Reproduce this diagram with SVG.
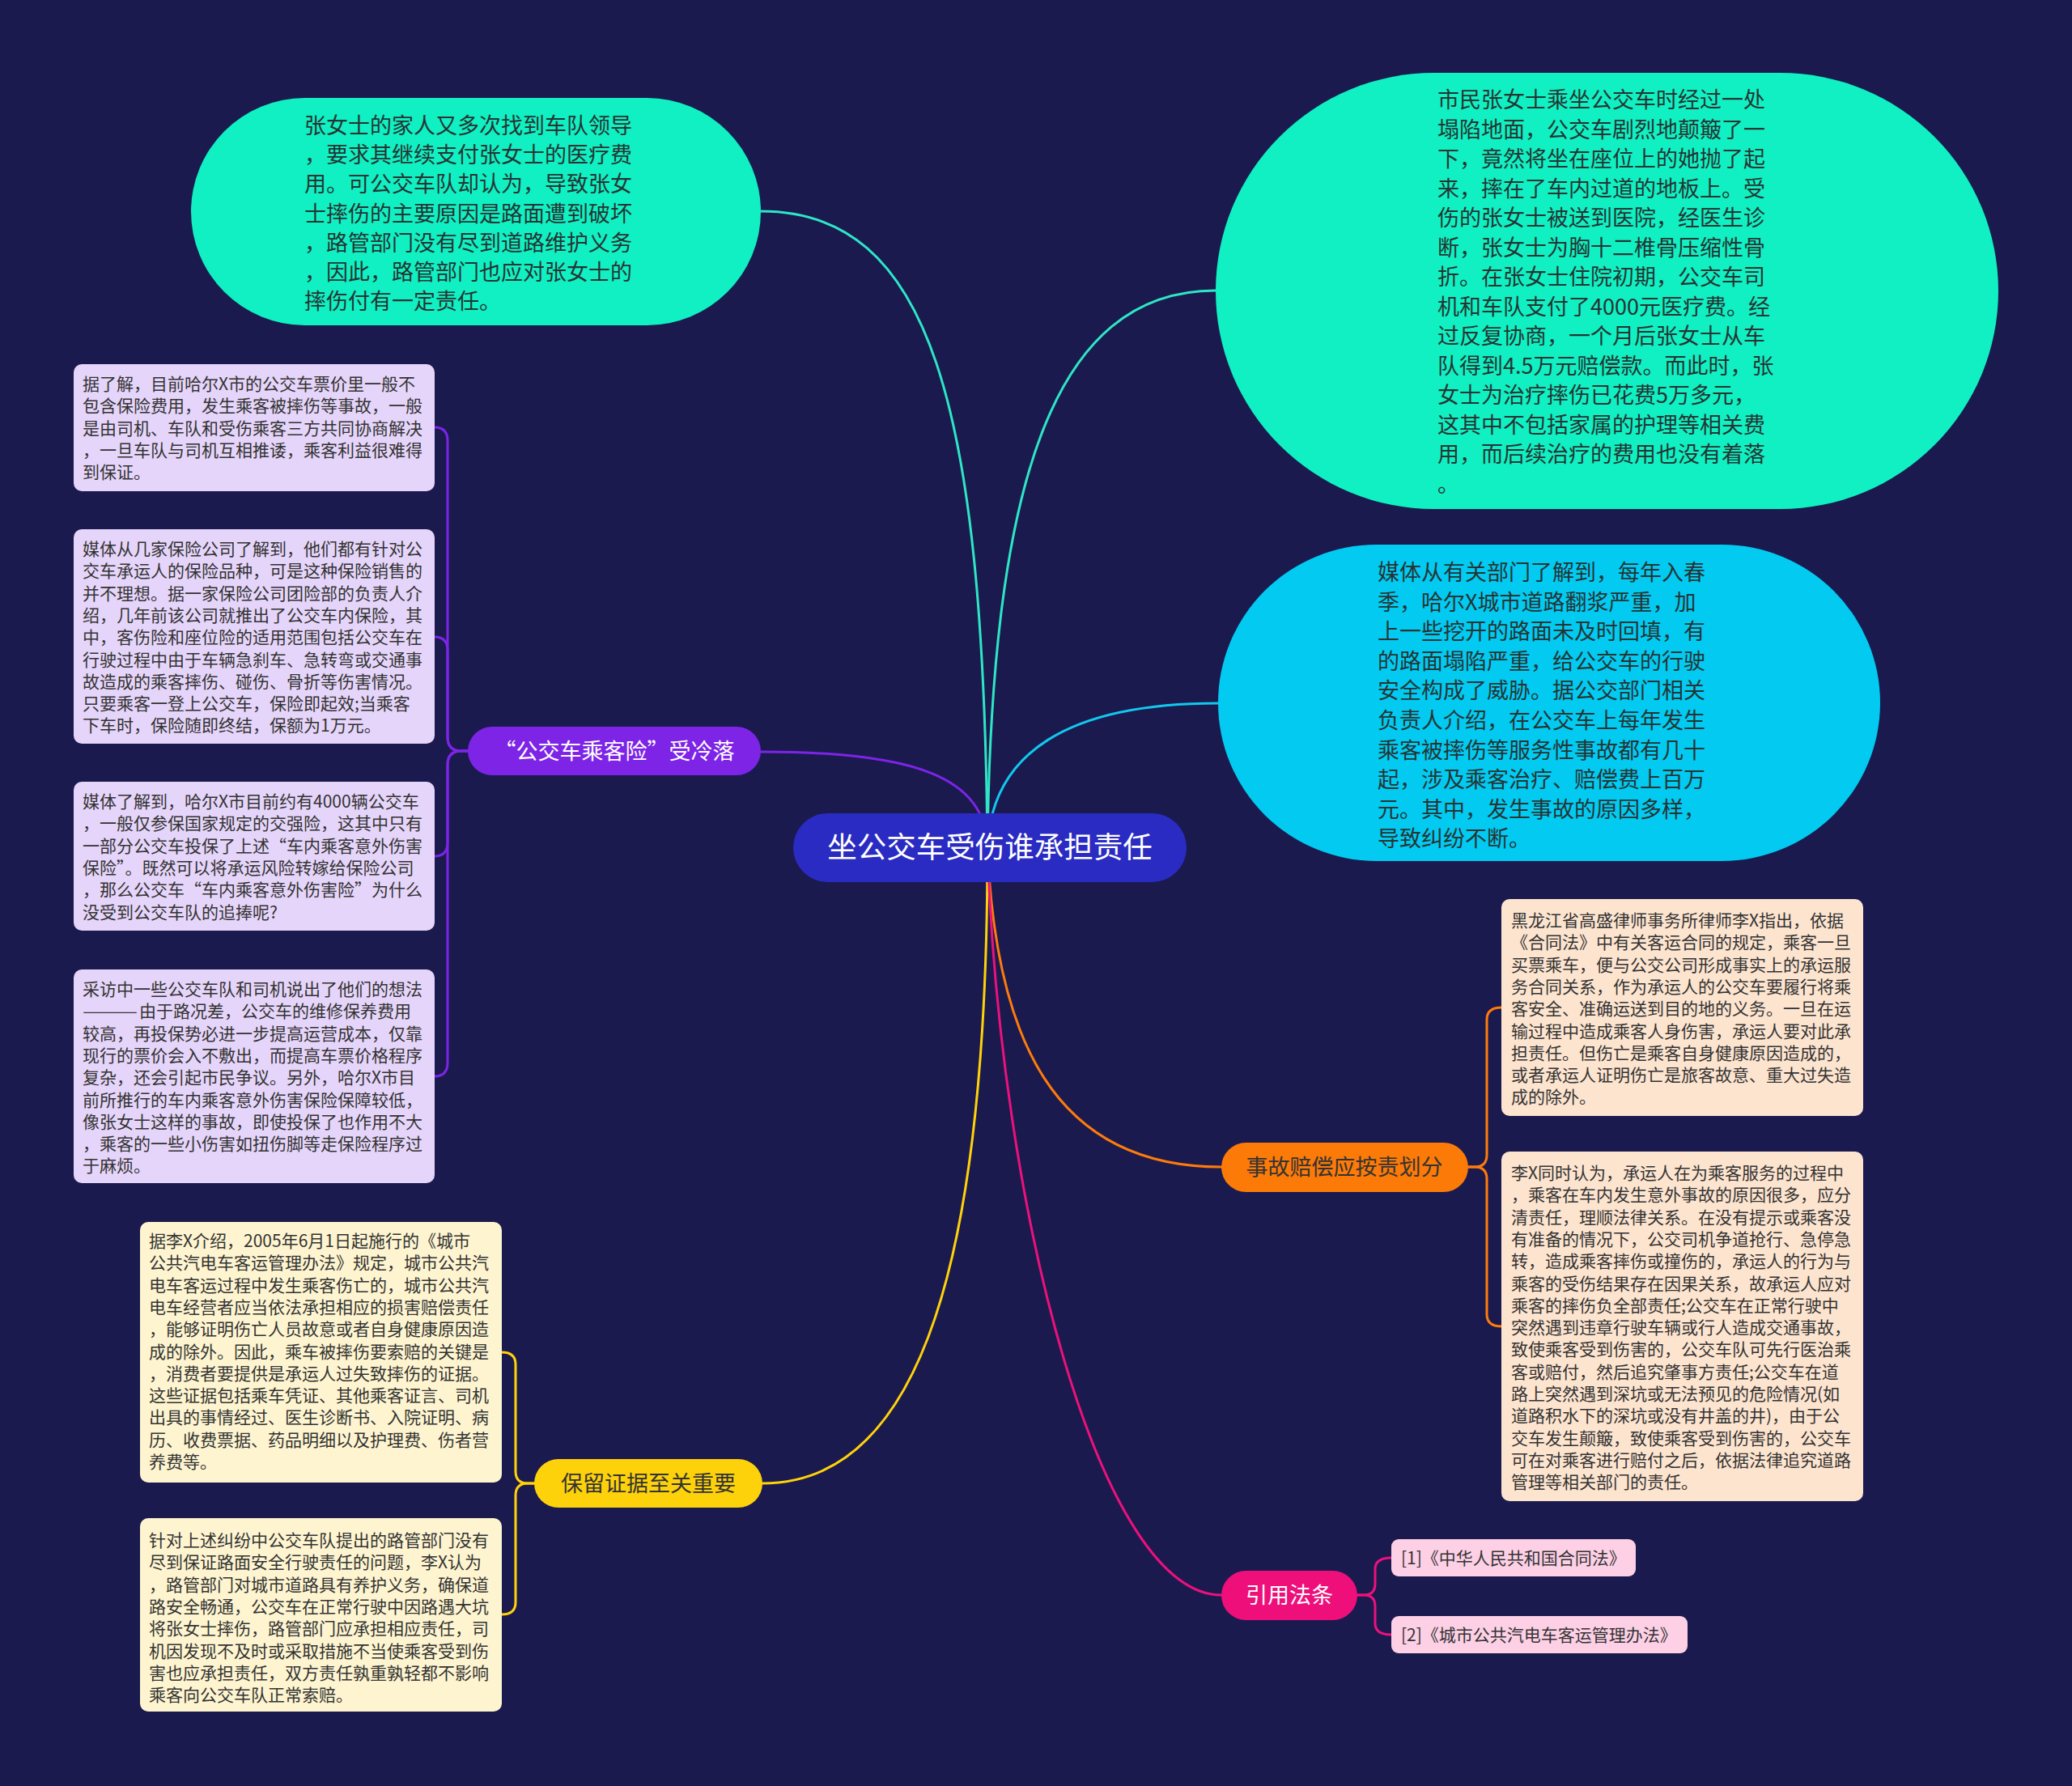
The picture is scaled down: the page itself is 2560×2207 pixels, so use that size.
<svg xmlns="http://www.w3.org/2000/svg" width="2560" height="2207" viewBox="0 0 2560 2207">
<style>
text{font-family:"Noto Sans CJK SC","Noto Sans",sans-serif;}
.bt{font-size:27px;fill:#263433;}
.st{font-size:21px;fill:#333333;}
.lbl{font-size:27px;text-anchor:middle;}
.conn{fill:none;stroke-width:3;stroke-linecap:round;}
.pbox{fill:#e6d5fa;}
.ybox{fill:#fef5d0;}
.obox{fill:#fde4cf;}
.cbox{fill:#fdd0e6;}
</style>
<rect x="0" y="0" width="2560" height="2207" fill="#1b1a4f"/>
<g id="connectors">
<path class="conn" stroke="#2ee6c6" d="M1220 1047 C1215 500 1150 261 940 261"/>
<path class="conn" stroke="#2ee6c6" d="M1220 1047 C1225 600 1300 359 1502 359"/>
<path class="conn" stroke="#12c8ee" d="M1220 1047 C1225 930 1320 869 1505 869"/>
<path class="conn" stroke="#7d24e6" d="M1220 1047 C1218 960 1130 929 940 929"/>
<path class="conn" stroke="#ff7b0a" d="M1220 1047 C1230 1280 1300 1442 1509 1442"/>
<path class="conn" stroke="#ffd20a" d="M1220 1047 C1220 1550 1140 1833 942 1833"/>
<path class="conn" stroke="#ec117c" d="M1220 1047 C1235 1500 1360 1971 1509 1971"/>
<path class="conn" stroke="#7d24e6" d="M578 928 H570 Q553 928 553 911 V545 Q553 528 537 528"/>
<path class="conn" stroke="#7d24e6" d="M578 928 H570 Q553 928 553 911 V804 Q553 787 537 787"/>
<path class="conn" stroke="#7d24e6" d="M578 928 H570 Q553 928 553 945 V1041 Q553 1058 537 1058"/>
<path class="conn" stroke="#7d24e6" d="M578 928 H570 Q553 928 553 945 V1313 Q553 1330 537 1330"/>
<path class="conn" stroke="#ffd20a" d="M660 1833 H652 Q637 1833 637 1818 V1686 Q637 1671 620 1671"/>
<path class="conn" stroke="#ffd20a" d="M660 1833 H652 Q637 1833 637 1848 V1980 Q637 1995 620 1995"/>
<path class="conn" stroke="#ff7b0a" d="M1814 1442 H1822 Q1837 1442 1837 1427 V1260 Q1837 1245 1855 1245"/>
<path class="conn" stroke="#ff7b0a" d="M1814 1442 H1822 Q1837 1442 1837 1457 V1624 Q1837 1639 1855 1639"/>
<path class="conn" stroke="#ec117c" d="M1677 1971 H1685 Q1699 1971 1699 1957 V1939 Q1699 1925 1719 1925"/>
<path class="conn" stroke="#ec117c" d="M1677 1971 H1685 Q1699 1971 1699 1985 V2006 Q1699 2020 1719 2020"/>
</g>
<g id="root">
<rect x="980" y="1005" width="486" height="85" rx="42.5" fill="#2a2bc2"/>
<text x="1223" y="1060" font-size="36.5" fill="#ffffff" text-anchor="middle">坐公交车受伤谁承担责任</text>
</g>
<g id="bubble-family">
<rect x="236" y="121" width="704" height="281" rx="140.5" fill="#10f0c2"/>
<text class="bt" x="376" y="165"><tspan x="376">张女士的家人又多次找到车队领导</tspan><tspan x="376" dy="36.2">，要求其继续支付张女士的医疗费</tspan><tspan x="376" dy="36.2">用。可公交车队却认为，导致张女</tspan><tspan x="376" dy="36.2">士摔伤的主要原因是路面遭到破坏</tspan><tspan x="376" dy="36.2">，路管部门没有尽到道路维护义务</tspan><tspan x="376" dy="36.2">，因此，路管部门也应对张女士的</tspan><tspan x="376" dy="36.2">摔伤付有一定责任。</tspan></text>
</g>
<g id="bubble-story">
<rect x="1502" y="90" width="967" height="539" rx="269.5" fill="#10f0c2"/>
<text class="bt" x="1776" y="133"><tspan x="1776">市民张女士乘坐公交车时经过一处</tspan><tspan x="1776" dy="36.5">塌陷地面，公交车剧烈地颠簸了一</tspan><tspan x="1776" dy="36.5">下，竟然将坐在座位上的她抛了起</tspan><tspan x="1776" dy="36.5">来，摔在了车内过道的地板上。受</tspan><tspan x="1776" dy="36.5">伤的张女士被送到医院，经医生诊</tspan><tspan x="1776" dy="36.5">断，张女士为胸十二椎骨压缩性骨</tspan><tspan x="1776" dy="36.5">折。在张女士住院初期，公交车司</tspan><tspan x="1776" dy="36.5">机和车队支付了4000元医疗费。经</tspan><tspan x="1776" dy="36.5">过反复协商，一个月后张女士从车</tspan><tspan x="1776" dy="36.5">队得到4.5万元赔偿款。而此时，张</tspan><tspan x="1776" dy="36.5">女士为治疗摔伤已花费5万多元，</tspan><tspan x="1776" dy="36.5">这其中不包括家属的护理等相关费</tspan><tspan x="1776" dy="36.5">用，而后续治疗的费用也没有着落</tspan><tspan x="1776" dy="36.5">。</tspan></text>
</g>
<g id="bubble-media">
<rect x="1505" y="673" width="818" height="391" rx="195.5" fill="#02caf1"/>
<text class="bt" x="1702" y="717"><tspan x="1702">媒体从有关部门了解到，每年入春</tspan><tspan x="1702" dy="36.6">季，哈尔X城市道路翻浆严重，加</tspan><tspan x="1702" dy="36.6">上一些挖开的路面未及时回填，有</tspan><tspan x="1702" dy="36.6">的路面塌陷严重，给公交车的行驶</tspan><tspan x="1702" dy="36.6">安全构成了威胁。据公交部门相关</tspan><tspan x="1702" dy="36.6">负责人介绍，在公交车上每年发生</tspan><tspan x="1702" dy="36.6">乘客被摔伤等服务性事故都有几十</tspan><tspan x="1702" dy="36.6">起，涉及乘客治疗、赔偿费上百万</tspan><tspan x="1702" dy="36.6">元。其中，发生事故的原因多样，</tspan><tspan x="1702" dy="36.6">导致纠纷不断。</tspan></text>
</g>
<g id="topic-insurance">
<rect x="578" y="898" width="362" height="60" rx="30" fill="#7d24e6"/>
<text class="lbl" x="759" y="938" fill="#ffffff">“公交车乘客险”受冷落</text>
</g>
<g id="ins-1">
<rect class="pbox" x="91" y="450" width="446" height="157" rx="10"/>
<text class="st" x="102" y="482"><tspan x="102">据了解，目前哈尔X市的公交车票价里一般不</tspan><tspan x="102" dy="27.3">包含保险费用，发生乘客被摔伤等事故，一般</tspan><tspan x="102" dy="27.3">是由司机、车队和受伤乘客三方共同协商解决</tspan><tspan x="102" dy="27.3">，一旦车队与司机互相推诿，乘客利益很难得</tspan><tspan x="102" dy="27.3">到保证。</tspan></text>
</g>
<g id="ins-2">
<rect class="pbox" x="91" y="654" width="446" height="265" rx="10"/>
<text class="st" x="102" y="686"><tspan x="102">媒体从几家保险公司了解到，他们都有针对公</tspan><tspan x="102" dy="27.3">交车承运人的保险品种，可是这种保险销售的</tspan><tspan x="102" dy="27.3">并不理想。据一家保险公司团险部的负责人介</tspan><tspan x="102" dy="27.3">绍，几年前该公司就推出了公交车内保险，其</tspan><tspan x="102" dy="27.3">中，客伤险和座位险的适用范围包括公交车在</tspan><tspan x="102" dy="27.3">行驶过程中由于车辆急刹车、急转弯或交通事</tspan><tspan x="102" dy="27.3">故造成的乘客摔伤、碰伤、骨折等伤害情况。</tspan><tspan x="102" dy="27.3">只要乘客一登上公交车，保险即起效;当乘客</tspan><tspan x="102" dy="27.3">下车时，保险随即终结，保额为1万元。</tspan></text>
</g>
<g id="ins-3">
<rect class="pbox" x="91" y="966" width="446" height="184" rx="10"/>
<text class="st" x="102" y="998"><tspan x="102">媒体了解到，哈尔X市目前约有4000辆公交车</tspan><tspan x="102" dy="27.3">，一般仅参保国家规定的交强险，这其中只有</tspan><tspan x="102" dy="27.3">一部分公交车投保了上述“车内乘客意外伤害</tspan><tspan x="102" dy="27.3">保险”。既然可以将承运风险转嫁给保险公司</tspan><tspan x="102" dy="27.3">，那么公交车“车内乘客意外伤害险”为什么</tspan><tspan x="102" dy="27.3">没受到公交车队的追捧呢?</tspan></text>
</g>
<g id="ins-4">
<rect class="pbox" x="91" y="1198" width="446" height="264" rx="10"/>
<text class="st" x="102" y="1230"><tspan x="102">采访中一些公交车队和司机说出了他们的想法</tspan><tspan x="102" dy="27.3" textLength="68" lengthAdjust="spacingAndGlyphs">———</tspan><tspan x="172">由于路况差，公交车的维修保养费用</tspan><tspan x="102" dy="27.3">较高，再投保势必进一步提高运营成本，仅靠</tspan><tspan x="102" dy="27.3">现行的票价会入不敷出，而提高车票价格程序</tspan><tspan x="102" dy="27.3">复杂，还会引起市民争议。另外，哈尔X市目</tspan><tspan x="102" dy="27.3">前所推行的车内乘客意外伤害保险保障较低，</tspan><tspan x="102" dy="27.3">像张女士这样的事故，即使投保了也作用不大</tspan><tspan x="102" dy="27.3">，乘客的一些小伤害如扭伤脚等走保险程序过</tspan><tspan x="102" dy="27.3">于麻烦。</tspan></text>
</g>
<g id="topic-evidence">
<rect x="660" y="1803" width="282" height="60" rx="30" fill="#fdd20a"/>
<text class="lbl" x="801" y="1843" fill="#333333">保留证据至关重要</text>
</g>
<g id="evi-1">
<rect class="ybox" x="173" y="1510" width="447" height="322" rx="10"/>
<text class="st" x="184" y="1541"><tspan x="184">据李X介绍，2005年6月1日起施行的《城市</tspan><tspan x="184" dy="27.3">公共汽电车客运管理办法》规定，城市公共汽</tspan><tspan x="184" dy="27.3">电车客运过程中发生乘客伤亡的，城市公共汽</tspan><tspan x="184" dy="27.3">电车经营者应当依法承担相应的损害赔偿责任</tspan><tspan x="184" dy="27.3">，能够证明伤亡人员故意或者自身健康原因造</tspan><tspan x="184" dy="27.3">成的除外。因此，乘车被摔伤要索赔的关键是</tspan><tspan x="184" dy="27.3">，消费者要提供是承运人过失致摔伤的证据。</tspan><tspan x="184" dy="27.3">这些证据包括乘车凭证、其他乘客证言、司机</tspan><tspan x="184" dy="27.3">出具的事情经过、医生诊断书、入院证明、病</tspan><tspan x="184" dy="27.3">历、收费票据、药品明细以及护理费、伤者营</tspan><tspan x="184" dy="27.3">养费等。</tspan></text>
</g>
<g id="evi-2">
<rect class="ybox" x="173" y="1876" width="447" height="239" rx="10"/>
<text class="st" x="184" y="1911"><tspan x="184">针对上述纠纷中公交车队提出的路管部门没有</tspan><tspan x="184" dy="27.3">尽到保证路面安全行驶责任的问题，李X认为</tspan><tspan x="184" dy="27.3">，路管部门对城市道路具有养护义务，确保道</tspan><tspan x="184" dy="27.3">路安全畅通，公交车在正常行驶中因路遇大坑</tspan><tspan x="184" dy="27.3">将张女士摔伤，路管部门应承担相应责任，司</tspan><tspan x="184" dy="27.3">机因发现不及时或采取措施不当使乘客受到伤</tspan><tspan x="184" dy="27.3">害也应承担责任，双方责任孰重孰轻都不影响</tspan><tspan x="184" dy="27.3">乘客向公交车队正常索赔。</tspan></text>
</g>
<g id="topic-liability">
<rect x="1509" y="1412" width="305" height="61" rx="30.5" fill="#fc7a08"/>
<text class="lbl" x="1661" y="1452" fill="#333333">事故赔偿应按责划分</text>
</g>
<g id="lia-1">
<rect class="obox" x="1855" y="1111" width="447" height="268" rx="10"/>
<text class="st" x="1867" y="1145"><tspan x="1867">黑龙江省高盛律师事务所律师李X指出，依据</tspan><tspan x="1867" dy="27.3">《合同法》中有关客运合同的规定，乘客一旦</tspan><tspan x="1867" dy="27.3">买票乘车，便与公交公司形成事实上的承运服</tspan><tspan x="1867" dy="27.3">务合同关系，作为承运人的公交车要履行将乘</tspan><tspan x="1867" dy="27.3">客安全、准确运送到目的地的义务。一旦在运</tspan><tspan x="1867" dy="27.3">输过程中造成乘客人身伤害，承运人要对此承</tspan><tspan x="1867" dy="27.3">担责任。但伤亡是乘客自身健康原因造成的，</tspan><tspan x="1867" dy="27.3">或者承运人证明伤亡是旅客故意、重大过失造</tspan><tspan x="1867" dy="27.3">成的除外。</tspan></text>
</g>
<g id="lia-2">
<rect class="obox" x="1855" y="1423" width="447" height="432" rx="10"/>
<text class="st" x="1867" y="1457"><tspan x="1867">李X同时认为，承运人在为乘客服务的过程中</tspan><tspan x="1867" dy="27.3">，乘客在车内发生意外事故的原因很多，应分</tspan><tspan x="1867" dy="27.3">清责任，理顺法律关系。在没有提示或乘客没</tspan><tspan x="1867" dy="27.3">有准备的情况下，公交司机争道抢行、急停急</tspan><tspan x="1867" dy="27.3">转，造成乘客摔伤或撞伤的，承运人的行为与</tspan><tspan x="1867" dy="27.3">乘客的受伤结果存在因果关系，故承运人应对</tspan><tspan x="1867" dy="27.3">乘客的摔伤负全部责任;公交车在正常行驶中</tspan><tspan x="1867" dy="27.3">突然遇到违章行驶车辆或行人造成交通事故，</tspan><tspan x="1867" dy="27.3">致使乘客受到伤害的，公交车队可先行医治乘</tspan><tspan x="1867" dy="27.3">客或赔付，然后追究肇事方责任;公交车在道</tspan><tspan x="1867" dy="27.3">路上突然遇到深坑或无法预见的危险情况(如</tspan><tspan x="1867" dy="27.3">道路积水下的深坑或没有井盖的井)，由于公</tspan><tspan x="1867" dy="27.3">交车发生颠簸，致使乘客受到伤害的，公交车</tspan><tspan x="1867" dy="27.3">可在对乘客进行赔付之后，依据法律追究道路</tspan><tspan x="1867" dy="27.3">管理等相关部门的责任。</tspan></text>
</g>
<g id="topic-laws">
<rect x="1509" y="1941" width="168" height="61" rx="30.5" fill="#ee0f7b"/>
<text class="lbl" x="1593" y="1981" fill="#ffffff">引用法条</text>
</g>
<g id="law-1">
<rect class="cbox" x="1719" y="1902" width="302" height="46" rx="9"/>
<text class="st" x="1731" y="1933">[1]《中华人民共和国合同法》</text>
</g>
<g id="law-2">
<rect class="cbox" x="1719" y="1997" width="366" height="46" rx="9"/>
<text class="st" x="1731" y="2028">[2]《城市公共汽电车客运管理办法》</text>
</g>
</svg>
